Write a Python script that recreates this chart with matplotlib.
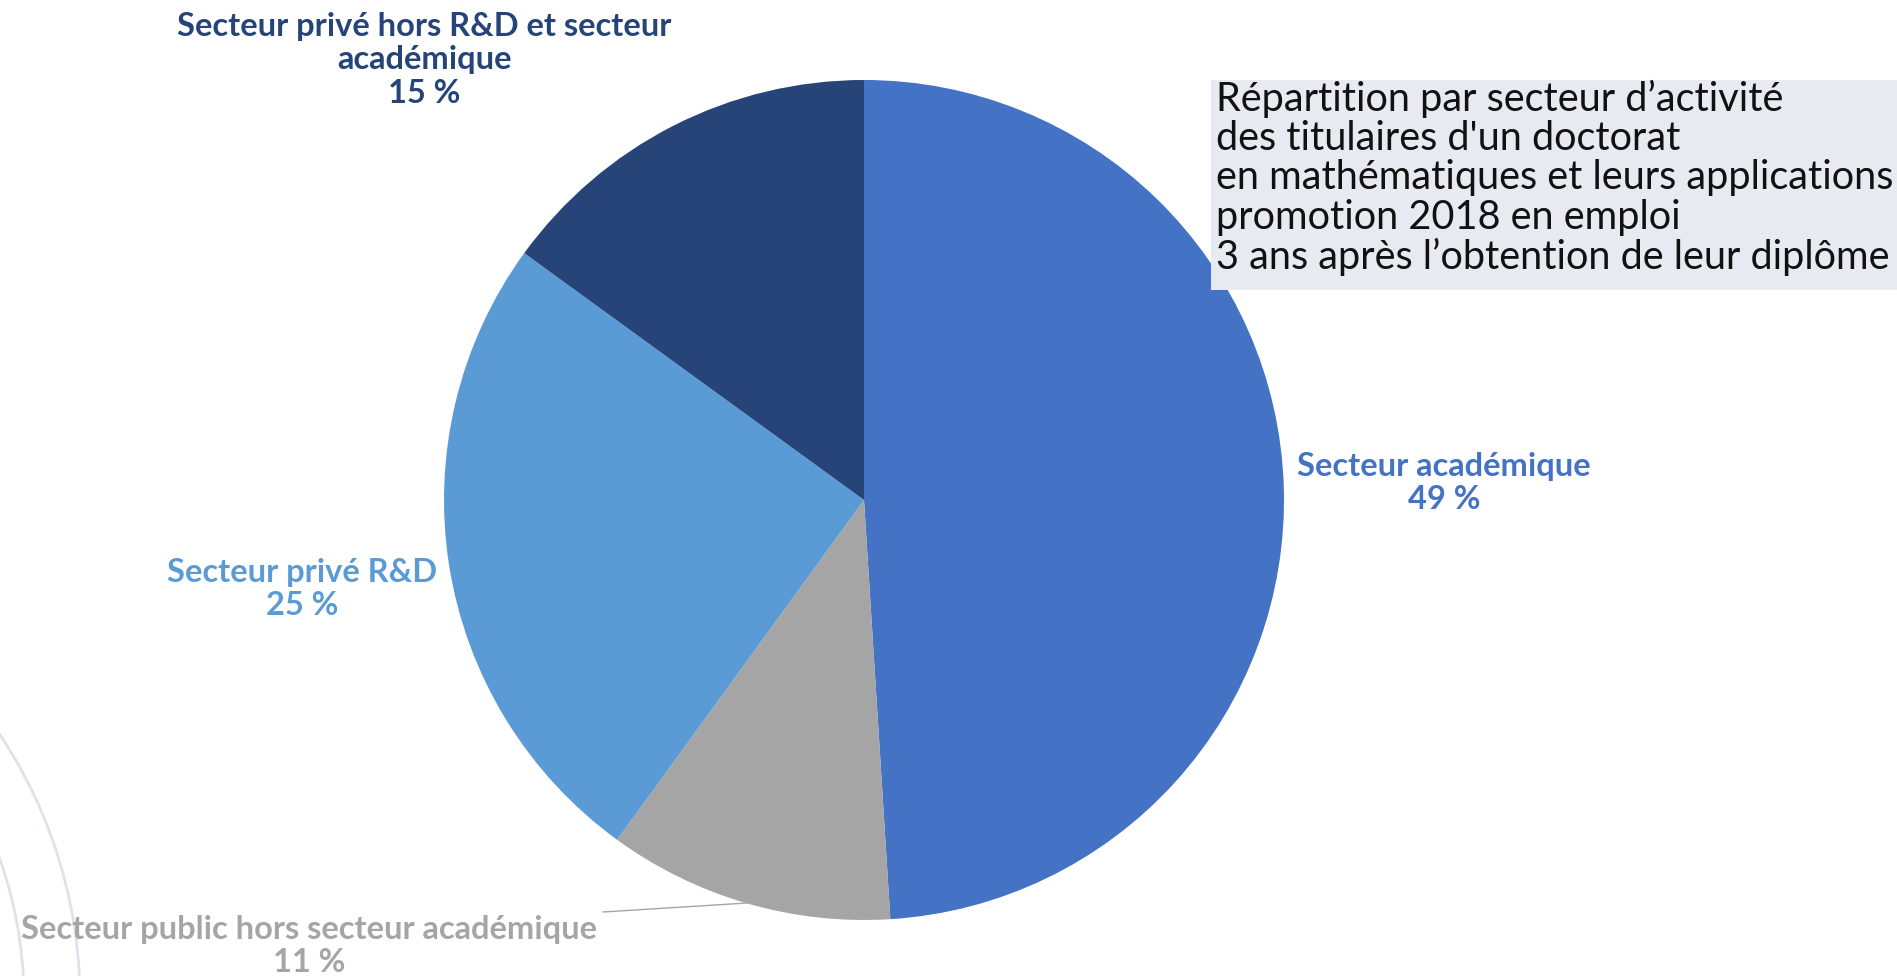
import matplotlib
matplotlib.use('Agg')
import matplotlib.pyplot as plt
import matplotlib.patches as mpatches

W, H = 1897, 976

# Data
labels = ['Secteur académique', 'Secteur public hors secteur académique',
          'Secteur privé R&D', 'Secteur privé hors R&D et secteur\nacadémique']
values = [49, 11, 25, 15]
colors = ['#4472C4', '#A5A5A5', '#5B9BD5', '#264478']
title_lines = ["Répartition par secteur d’activité",
               "des titulaires d'un doctorat",
               "en mathématiques et leurs applications",
               "promotion 2018 en emploi",
               "3 ans après l’obtention de leur diplôme"]

plt.rcParams['font.family'] = ['Lato', 'DejaVu Sans']

fig = plt.figure(figsize=(W / 100, H / 100), dpi=100)
ax = fig.add_axes([0, 0, 1, 1])

# faint decorative arcs bottom left
for r in (424, 480):
    c = mpatches.Circle((-400, H - 1000), r, fill=False, edgecolor='#DCE3EB', lw=2)
    ax.add_patch(c)

cx, cy, rad = 864, H - 500, 420
ax.pie(values, colors=colors, startangle=90, counterclock=False,
       center=(cx, cy), radius=rad, frame=True,
       wedgeprops=dict(edgecolor='none'))
ax.set_xlim(0, W)
ax.set_ylim(0, H)
ax.set_aspect('equal')
ax.axis('off')

# data labels
lab_pos = [(1444, H - 483), (309, H - 946), (302, H - 589), (424, H - 60)]
for lab, v, col, (x, y) in zip(labels, values, colors, lab_pos):
    ax.text(x, y, f'{lab}\n{v} %', color=col, ha='center', va='center',
            fontsize=23.5, fontweight='bold', linespacing=1.2)

# leader line for the small slice
ax.plot([603, 747], [H - 912, H - 903], color='#A5A5A5', lw=1)

# title box
ax.add_patch(mpatches.Rectangle((1211, H - 290), W - 1211, 210,
                                facecolor='#E8EAF2', edgecolor='none'))
ax.text(1216, H - 80, '\n'.join(title_lines), ha='left', va='top',
        fontsize=28.5, color='#111111', linespacing=1.07)

fig.savefig('out.png', dpi=100)
